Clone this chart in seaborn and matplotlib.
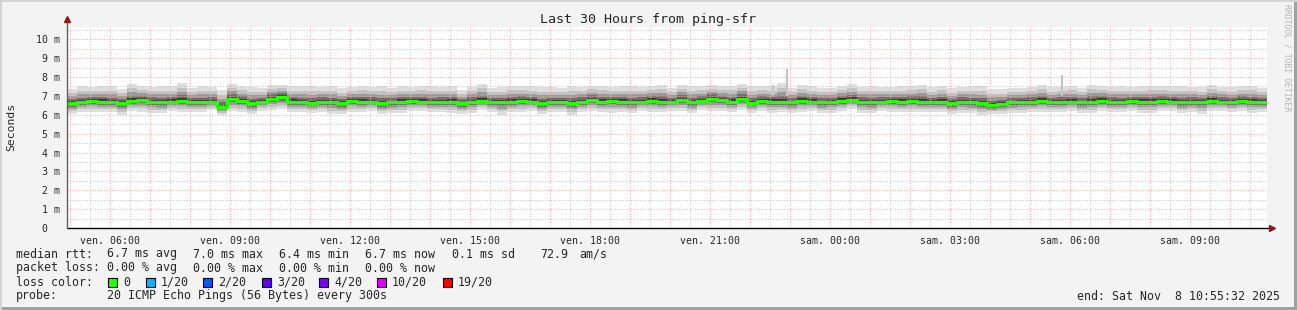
import numpy as np
import matplotlib
matplotlib.use("Agg")
import matplotlib.pyplot as plt
from matplotlib.patches import Rectangle
import seaborn as sns

sns.set_style("white")
plt.rcParams['font.family'] = ['DejaVu Sans Mono', 'DejaVu Sans']

W, H = 1297, 310

# ---- data (15-minute bins over 30 hours, start Fri 04:55:32) ----
median_ms = [
    6.6, 6.65, 6.75, 6.7,   6.65, 6.6, 6.75, 6.8,   6.7, 6.65, 6.7, 6.75,
    6.7, 6.65, 6.7, 6.4,    6.85, 6.75, 6.6, 6.7,   6.85, 6.95, 6.7, 6.65,
    6.6, 6.7, 6.65, 6.6,    6.75, 6.7, 6.7, 6.6,    6.65, 6.7, 6.75, 6.7,
    6.65, 6.7, 6.7, 6.6,    6.7, 6.75, 6.7, 6.65,   6.7, 6.75, 6.7, 6.6,
    6.65, 6.7, 6.6, 6.7,    6.8, 6.7, 6.75, 6.7,    6.65, 6.7, 6.75, 6.7,
    6.7, 6.8, 6.65, 6.75,   6.85, 6.8, 6.7, 6.85,   6.6, 6.75, 6.7, 6.7,
    6.65, 6.75, 6.7, 6.65,  6.7, 6.75, 6.8, 6.7,    6.65, 6.7, 6.75, 6.7,
    6.75, 6.7, 6.65, 6.7,   6.6, 6.7, 6.65, 6.6,    6.5, 6.55, 6.65, 6.7,
    6.7, 6.75, 6.65, 6.7,   6.7, 6.65, 6.7, 6.75,   6.7, 6.65, 6.75, 6.7,
    6.7, 6.75, 6.7, 6.65,   6.7, 6.65, 6.75, 6.7,   6.65, 6.75, 6.7, 6.7,
]
spread_hi = [
    .75, .85, .7, .8,  .85, .75, .9, .7,  .75, .85, .8, .95,  .7, .85, .75, .9,
    .8, .75, .85, .7,  .75, .65, .8, .85,  .9, .75, .85, .8,  .7, .85, .75, .9,
    .75, .8, .7, .85,  .85, .75, .8, .7,  .75, .9, .7, .8,  .85, .75, .8, .85,
    .8, .7, .9, .75,  .75, .85, .7, .8,  .85, .75, .8, .9,  .7, .8, .85, .75,
    .75, .7, .85, .8,  .9, .75, .8, 1.0,  .75, .85, .8, .75,  .7, .8, .85, .75,
    .85, .75, .7, .8,  .75, .9, .8, .85,  .8, .75, .85, .9,  .85, .8, .75, .7,
    .75, .85, .8, .75,  .85, .75, .9, .8,  .75, .85, .7, .8,  .85, .75, .8, .85,
    .75, .8, .85, .75,  .8, .75, .85, .7,
]
spread_lo = [
    .55, .5, .6, .55,  .5, .6, .55, .65,  .6, .55, .5, .6,  .55, .5, .45, .4,
    .65, .6, .55, .5,  .6, .65, .55, .5,  .5, .55, .6, .55,  .6, .55, .5, .55,
    .55, .6, .55, .5,  .5, .55, .6, .55,  .6, .5, .55, .65,  .55, .6, .5, .55,
    .5, .55, .6, .55,  .6, .55, .65, .55,  .55, .5, .6, .55,  .5, .6, .55, .5,
    .65, .6, .55, .6,  .5, .55, .6, .55,  .55, .6, .5, .55,  .6, .55, .5, .6,
    .55, .5, .6, .55,  .6, .55, .5, .55,  .55, .6, .55, .6,  .45, .5, .55, .6,
    .55, .6, .5, .55,  .5, .55, .6, .55,  .55, .5, .55, .6,  .6, .55, .5, .55,
    .55, .6, .55, .5,  .5, .55, .6, .55,
]
spike_hours = [17.65, 18.0, 24.88]
spike_tops = [7.6, 8.45, 8.1]

x_labels = ["ven. 06:00", "ven. 09:00", "ven. 12:00", "ven. 15:00", "ven. 18:00",
            "ven. 21:00", "sam. 00:00", "sam. 03:00", "sam. 06:00", "sam. 09:00"]
y_labels = ["0  ", "1 m", "2 m", "3 m", "4 m", "5 m", "6 m", "7 m", "8 m", "9 m", "10 m"]

loss_names = ["0", "1/20", "2/20", "3/20", "4/20", "10/20", "19/20"]
loss_colors = ["#26ff00", "#00b8ff", "#0059ff", "#5e00ff", "#7e00ff", "#dd00ff", "#ff0000"]

# ---- figure ----
fig = plt.figure(figsize=(W / 100, H / 100), dpi=100, facecolor="#f3f3f3")
ax = fig.add_axes([67 / W, (H - 228) / H, 1200 / W, 201 / H])
ax.set_facecolor("white")
ax.set_xlim(0, 30)
ax.set_ylim(0, 10.65)

med = np.array(median_ms)
hi = np.array(spread_hi)
lo = np.array(spread_lo)
n = len(med)
xs = np.arange(n + 1) * 0.25
med_e = np.append(med, med[-1])
hi_e = np.append(hi, hi[-1])
lo_e = np.append(lo, lo[-1])

# smoke layers (lighter outside, darker near the median)
layers = [(1.0, "#dedede"), (0.72, "#c2c2c2"), (0.5, "#9a9a9a"), (0.3, "#6e6e6e"), (0.14, "#3a3a3a")]
for frac, col in layers:
    ax.fill_between(xs, med_e - lo_e * frac, med_e + hi_e * frac, step="post",
                    color=col, linewidth=0, zorder=2)
for sh, st in zip(spike_hours, spike_tops):
    ax.vlines(sh, 7.0, st, color="#c4c4c4", linewidth=1.6, zorder=2)

sns.lineplot(x=xs, y=med_e, drawstyle="steps-post", color="#26ff00",
             linewidth=2.3, estimator=None, ax=ax, zorder=4)

# grid
h0 = (60 - 55 - 32 / 60) / 60  # first full hour (05:00) after start 04:55:32
dotted = (0, (1, 1.5))
for k in range(31):
    xm = h0 + k - 0.5
    if 0 < xm < 30:
        ax.axvline(xm, color="#c8c8c8", linestyle=dotted, linewidth=0.8, zorder=3)
for k in range(1, 22):
    if k % 2 == 1:
        ax.axhline(k * 0.5, color="#c8c8c8", linestyle=dotted, linewidth=0.8, zorder=3)
for k in range(30):
    ax.axvline(h0 + k, color="#ff9a9a", linestyle=dotted, linewidth=0.8, zorder=3, alpha=0.85)
for k in range(1, 11):
    ax.axhline(k, color="#ff9a9a", linestyle=dotted, linewidth=0.8, zorder=3, alpha=0.85)

for s in ax.spines.values():
    s.set_visible(False)

# axes lines with arrows
ax.plot([0, 30.05], [0, 0], color="black", linewidth=1.0, clip_on=False, zorder=5)
ax.plot([0, 0], [0, 11.0], color="#606060", linewidth=1.0, clip_on=False, zorder=5)
ax.plot([30.12], [0], marker=">", color="#8b1a1a", markersize=4, clip_on=False, zorder=6)
ax.plot([0], [11.05], marker="^", color="#8b1a1a", markersize=4, clip_on=False, zorder=6)

# ticks
major_x = [h0 + k for k in range(30)]
ax.set_xticks(major_x)
lab = []
for k in range(30):
    lab.append(x_labels[(k - 1) // 3] if (k - 1) % 3 == 0 and 0 <= (k - 1) // 3 < len(x_labels) else "")
ax.set_xticklabels(lab, fontsize=7.1)
ax.set_xticks([h0 + k + 0.5 for k in range(-1, 30) if 0 < h0 + k + 0.5 < 30], minor=True)
ax.tick_params(axis="x", which="major", direction="inout", length=5, width=0.8, color="#ff8080", pad=3)
ax.tick_params(axis="x", which="minor", direction="inout", length=3, width=0.8, color="#c0c0c0")
ax.set_yticks(range(11))
ax.set_yticklabels(y_labels, fontsize=7.1)
ax.tick_params(axis="y", which="major", direction="out", length=3.5, width=0.8, color="#404040", pad=1.5)

# texts
def ft(xp, yp, s, **kw):
    kw.setdefault("fontsize", 8.4)
    kw.setdefault("va", "center")
    fig.text(xp / W, 1 - yp / H, s, **kw)

ft(648, 19, "Last 30 Hours from ping-sfr", ha="center", fontsize=9.6)
ft(11, 127, "Seconds", ha="center", rotation=90, fontsize=8.2)
fig.text(1287 / W, 1 - 4 / H, "RRDTOOL / TOBI OETIKER", rotation=270, ha="center", va="top",
         fontsize=5.9, color="#b4b4b4")

ft(16, 254, "median rtt:")
for xp, s in [(107, "6.7 ms avg"), (193, "7.0 ms max"), (279, "6.4 ms min"), (365, "6.7 ms now"),
              (452, "0.1 ms sd"), (540, "72.9"), (579, "am/s")]:
    ft(xp, 254, s)
ft(16, 268, "packet loss:")
for xp, s in [(107, "0.00 % avg"), (193, "0.00 % max"), (279, "0.00 % min"), (365, "0.00 % now")]:
    ft(xp, 268, s)
ft(16, 282, "loss color:")
box_x = [108, 146, 203, 262, 319, 377, 443]
for bx, name, col in zip(box_x, loss_names, loss_colors):
    fig.add_artist(Rectangle((bx / W, 1 - 287 / H), 9 / W, 9 / H, transform=fig.transFigure,
                             facecolor=col, edgecolor="black", linewidth=0.8))
    ft(bx + 15, 282, name)
ft(16, 296, "probe:")
ft(107, 296, "20 ICMP Echo Pings (56 Bytes) every 300s")
ft(1280, 296, "end: Sat Nov  8 10:55:32 2025", ha="right")

# frame border
fig.add_artist(Rectangle((0, 0), 1, 3 / H, transform=fig.transFigure, facecolor="#a0a0a0", edgecolor="none"))
fig.add_artist(Rectangle((1 - 3 / W, 0), 3 / W, 1, transform=fig.transFigure, facecolor="#a0a0a0", edgecolor="none"))
fig.add_artist(Rectangle((0, 1 - 2 / H), 1, 2 / H, transform=fig.transFigure, facecolor="#d4d4d4", edgecolor="none"))
fig.add_artist(Rectangle((0, 0), 2 / W, 1, transform=fig.transFigure, facecolor="#d4d4d4", edgecolor="none"))

fig.savefig("out.png", dpi=100, facecolor=fig.get_facecolor())
